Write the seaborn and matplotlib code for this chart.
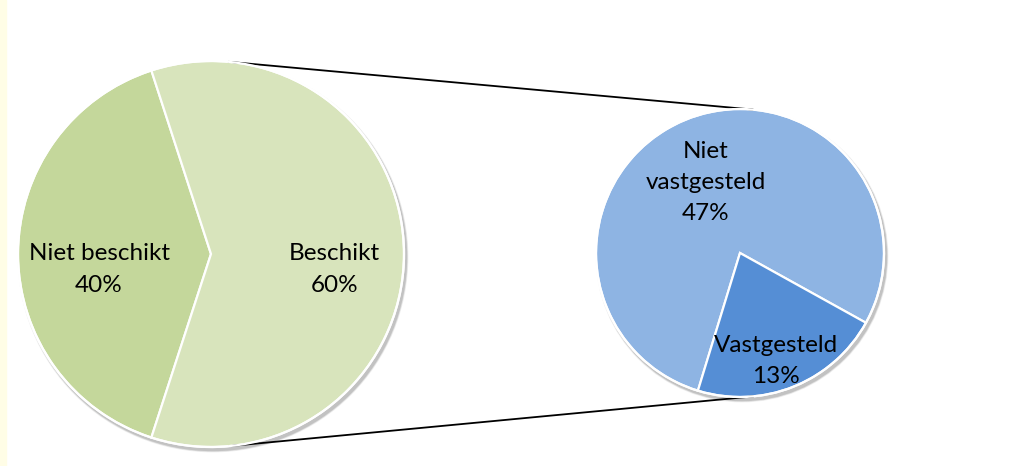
import numpy as np
import matplotlib
matplotlib.use("Agg")
import matplotlib.pyplot as plt
import seaborn as sns
from matplotlib.patches import Circle, Rectangle

# ---- data ----
main_labels = ["Niet beschikt", "Beschikt"]
main_values = [40, 60]
sub_labels = ["Niet\nvastgesteld", "Vastgesteld"]
sub_values = [47, 13]

main_colors = ["#C4D79B", "#D8E4BC"]
sub_colors = ["#8EB4E3", "#558ED5"]

sns.set_theme(style="white")
plt.rcParams["font.family"] = ["Lato", "DejaVu Sans"]

W, H = 1023, 466
fig = plt.figure(figsize=(W / 100, H / 100), dpi=100)
ax = fig.add_axes([0, 0, 1, 1])

# layout (pixel space, y up)
c1, r1 = (211, H - 254), 193
c2, r2 = (740, H - 253), 144

def shadow(c, r):
    for k, a in zip([4, 3, 2], [0.06, 0.08, 0.12]):
        ax.add_patch(Circle((c[0] + 2, c[1] - 3), r + k * 0.6, color="#000000",
                            alpha=a, lw=0, zorder=0))

shadow(c1, r1)
shadow(c2, r2)

wp = dict(edgecolor="white", linewidth=1.6)
ax.pie(main_values, colors=main_colors, startangle=108, center=c1, radius=r1,
       wedgeprops=wp, frame=True)
ax.pie(sub_values, colors=sub_colors, startangle=-29, center=c2, radius=r2,
       wedgeprops=wp, frame=True)
for c, r in [(c1, r1), (c2, r2)]:
    ax.add_patch(Circle(c, r, fill=False, edgecolor="white", lw=1.6, zorder=5))

# connector lines: external tangents of the two circles
dx, dy = c2[0] - c1[0], c2[1] - c1[1]
d = np.hypot(dx, dy)
base = np.arctan2(dy, dx)
phi = np.arccos((r1 - r2) / d)
for sgn in (1, -1):
    ang = base + sgn * phi
    n = np.array([np.cos(ang), np.sin(ang)])
    p1 = np.array(c1) + r1 * n
    p2 = np.array(c2) + r2 * n
    ax.plot([p1[0], p2[0]], [p1[1], p2[1]], color="black", lw=1.3, zorder=1)

fs = 17.5

def lab(c, r, fx, fy, text):
    ax.text(c[0] + fx * r, c[1] + fy * r, text, ha="center", va="center",
            fontsize=fs, color="black", linespacing=1.6, zorder=6)

lab(c1, r1, -0.58, -0.08, f"{main_labels[0]}\n{main_values[0]}%")
lab(c1, r1, 0.64, -0.08, f"{main_labels[1]}\n{main_values[1]}%")
lab(c2, r2, -0.24, 0.49, f"{sub_labels[0]}\n{sub_values[0]}%")
lab(c2, r2, 0.25, -0.75, f"{sub_labels[1]}\n{sub_values[1]}%")

# faint yellow strip at left edge
fig.patches.append(Rectangle((0, 0), 6 / W, 1, transform=fig.transFigure,
                             color="#FFFDE6", zorder=0))

ax.set_xlim(0, W)
ax.set_ylim(0, H)
ax.set_aspect("equal")
ax.axis("off")
fig.savefig("out.png", dpi=100)
